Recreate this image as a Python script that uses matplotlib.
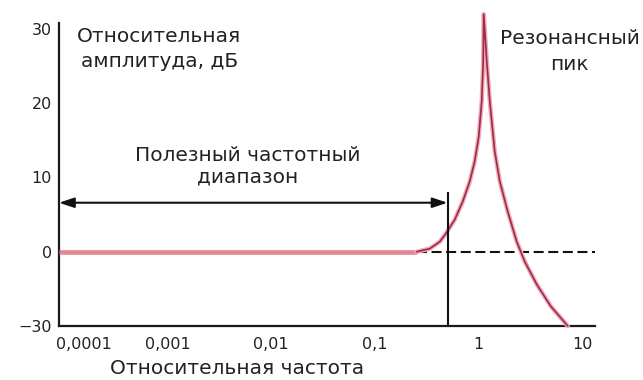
import numpy as np
import matplotlib
matplotlib.use("Agg")
import matplotlib.pyplot as plt

plt.rcParams['font.family'] = ['DejaVu Sans']

# ---------------- data ----------------
# flat part of the response (relative frequency, dB)
flat_freq = [0.00009, 0.252]
flat_db = [0.0, 0.0]

# resonance part of the response
res_freq = [0.252, 0.337, 0.421, 0.481, 0.587, 0.701, 0.819, 0.915, 1.0, 1.069, 1.105, 1.117,
            1.194, 1.277, 1.426, 1.594, 1.903, 2.325, 2.778, 3.625, 4.94, 7.21]
res_db = [0.0, 0.41, 1.35, 2.43, 4.32, 6.76, 9.46, 12.2, 15.5, 20.3, 25.7, 32.0,
          25.7, 20.3, 13.5, 9.5, 5.4, 1.35, -4.0, -13.2, -22.0, -30.0]

# reference 0 dB dashed line
ref_freq = [0.252, 13.2]
ref_db = [0.0, 0.0]

# useful band
band_start = 0.00009
band_edge = 0.5
band_arrow_db = 6.6
band_edge_top_db = 7.9

x_ticks = [0.0001, 0.001, 0.01, 0.1, 1, 10]
x_tick_labels = ["0,0001", "0,001", "0,01", "0,1", "1", "10"]
y_ticks = [-30, 0, 10, 20, 30]
y_tick_labels = ["\u221230", "0", "10", "20", "30"]

x_limits = (0.00009, 13.2)
y_limits = (-30, 30.8)


# ---------------- scale: 0..-30 compressed 3x ----------------
def fwd(y):
    y = np.asarray(y, dtype=float)
    return np.where(y >= 0, y, y / 3.0)


def inv(y):
    y = np.asarray(y, dtype=float)
    return np.where(y >= 0, y, y * 3.0)


fig = plt.figure(figsize=(6.43, 3.80), dpi=100)
ax = fig.add_axes([59 / 643, 1 - 326 / 380, (595 - 59) / 643, (326 - 23) / 380])
ax.set_xscale('log')
ax.set_yscale('function', functions=(fwd, inv))
ax.set_xlim(*x_limits)
ax.set_ylim(*y_limits)

for s in ['top', 'right']:
    ax.spines[s].set_visible(False)
for s in ['left', 'bottom']:
    ax.spines[s].set_linewidth(1.6)
    ax.spines[s].set_color('#1a1a1a')

# curves
ax.plot(flat_freq, flat_db, color='#e48591', lw=3.3, solid_capstyle='butt', zorder=3)
ax.plot(res_freq, res_db, color='#f3aab8', lw=3.2, solid_capstyle='round', clip_on=False, zorder=3)
ax.plot(res_freq, res_db, color='#9b2c47', lw=1.2, solid_capstyle='round', clip_on=False, zorder=4)

# dashed reference
ax.plot(ref_freq, ref_db, color='#111111', lw=1.5, dashes=(4.8, 2.2), zorder=2)

# band edge vertical line
ax.plot([band_edge, band_edge], [y_limits[0], band_edge_top_db], color='#111111', lw=1.5, zorder=5)

# double arrow
ax.annotate('', xy=(band_edge, band_arrow_db), xytext=(band_start, band_arrow_db),
            arrowprops=dict(arrowstyle='<|-|>,head_length=0.75,head_width=0.25',
                            mutation_scale=12, color='#111111', lw=1.5,
                            shrinkA=0, shrinkB=0), zorder=5)

# ticks
ax.set_xticks(x_ticks)
ax.set_xticklabels([''] + x_tick_labels[1:])
ax.xaxis.set_minor_locator(matplotlib.ticker.NullLocator())
ax.set_yticks(y_ticks)
ax.set_yticklabels(y_tick_labels)
ax.tick_params(axis='x', length=0, pad=8, labelsize=11.5, colors='#222222')
ax.tick_params(axis='y', length=0, pad=5, labelsize=11.5, colors='#222222')

# first x label shifted right (as in reference)
ax.annotate(x_tick_labels[0], xy=(x_ticks[0], 0), xycoords=('data', 'axes fraction'),
            xytext=(14.5, -8), textcoords='offset points', ha='center', va='top',
            fontsize=11.5, color='#222222')

ax.set_xlabel("Относительная частота", fontsize=14.5, color='#222222')
ax.xaxis.set_label_coords(0.332, -0.108)

# annotations
ax.text(8.3e-4, 27.3, "Относительная\nамплитуда, дБ", ha='center', va='center',
        fontsize=14.5, linespacing=1.45, color='#222222')
ax.text(7.55, 27.0, "Резонансный\nпик", ha='center', va='center',
        fontsize=14.5, linespacing=1.45, color='#222222')
ax.text(5.9e-3, 11.5, "Полезный частотный\nдиапазон", ha='center', va='center',
        fontsize=14.5, linespacing=1.2, color='#222222')

fig.savefig("out.png", dpi=100)
